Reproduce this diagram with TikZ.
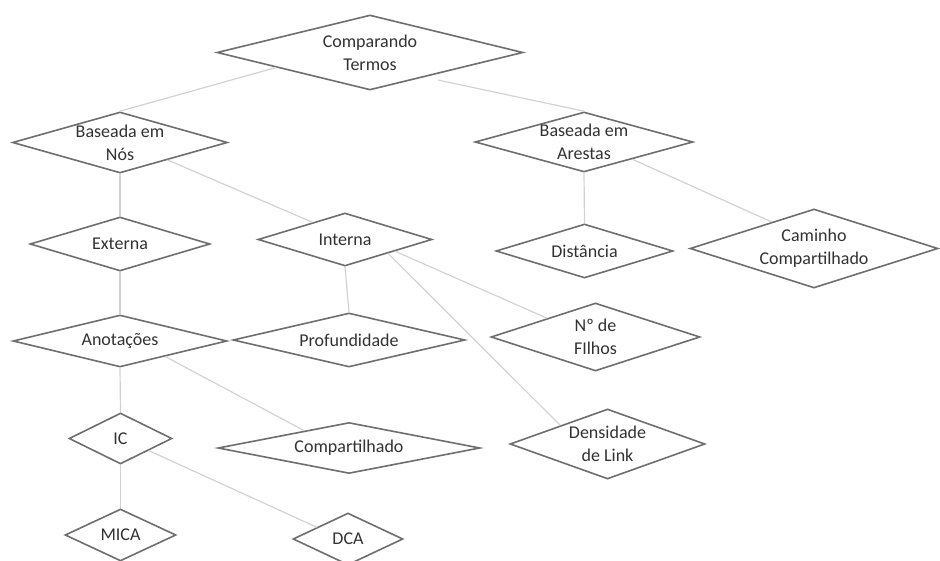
\documentclass[tikz,border=0pt]{standalone}
\usepackage{fontspec}
\setmainfont{Carlito}
\usetikzlibrary{shapes.geometric,calc}
\definecolor{edgegray}{RGB}{110,110,110}
\definecolor{linkgray}{RGB}{210,210,210}
\definecolor{textgray}{RGB}{50,50,50}
\tikzset{
  dtext/.style={text=textgray, align=center, inner sep=0pt,
    font=\fontsize{18}{23}\selectfont},
  dia/.style n args={3}{diamond, draw=edgegray, line width=1.6pt, fill=white,
    inner sep=0pt, minimum width=#1, minimum height=#2,
    label={[dtext]center:#3}},
  link/.style={draw=linkgray, line width=1.2pt},
}
\begin{document}
\begin{tikzpicture}[x=1pt,y=-1pt]
\useasboundingbox (0,0) rectangle (940,561);

% decision diamonds
\node[dia={306pt}{75pt}{Comparando\\Termos}] (cmp) at (370,52.5) {};
\node[dia={215pt}{61pt}{Baseada em\\Nós}] (nos) at (120,142.5) {};
\node[dia={218pt}{60pt}{Baseada em\\Arestas}] (are) at (584,142) {};
\node[dia={180pt}{54pt}{Externa}] (ext) at (120,244) {};
\node[dia={174pt}{53pt}{Interna}] (int) at (345,239.5) {};
\node[dia={177pt}{54pt}{Distância}] (dist) at (584.5,251) {};
\node[dia={248pt}{79pt}{Caminho\\Compartilhado}] (cam) at (814,248.5) {};
\node[dia={214pt}{52pt}{Anotações}] (anot) at (120,341) {};
\node[dia={232pt}{54pt}{Profundidade}] (prof) at (349,340) {};
\node[dia={209pt}{68pt}{Nº de\\FIlhos}] (fil) at (595.5,337) {};
\node[dia={103pt}{51pt}{IC}] (ic) at (120.5,438.5) {};
\node[dia={262pt}{51pt}{Compartilhado}] (comp) at (349,448) {};
\node[dia={195pt}{70pt}{Densidade\\de Link}] (dens) at (607.5,444) {};
\node[dia={111pt}{52pt}{MICA}] (mica) at (120.5,535) {};
\node[dia={110pt}{52pt}{DCA}] (dca) at (348,539) {};

% connectors
\draw[link] ($(cmp.west)!0.39!(cmp.south)$) -- (nos.north);
\draw[link] ($(cmp.south)!0.44!(cmp.east)+(0,6)$) -- (are.north);
\draw[link] (nos.south) -- (ext.north);
\draw[link] ($(nos.south)!0.44!(nos.east)$) -- ($(int.west)!0.63!(int.north)$);
\draw[link] (are.south) -- (dist.north);
\draw[link] ($(are.south)!0.44!(are.east)$) -- ($(cam.west)!0.66!(cam.north)$);
\draw[link] (ext.south) -- (anot.north);
\draw[link] (int.south) -- (prof.north);
\draw[link] ($(int.south)!0.57!(int.east)$) -- ($(fil.west)!0.54!(fil.north)$);
\draw[link] ($(int.south)!0.49!(int.east)$) -- ($(dens.west)!0.52!(dens.north)$);
\draw[link] (anot.south) -- (ic.north);
\draw[link] ($(anot.south)!0.42!(anot.east)$) -- ($(comp.west)!0.66!(comp.north)$);
\draw[link] (ic.south) -- (mica.north);
\draw[link] ($(ic.south)!0.54!(ic.east)$) -- ($(dca.west)!0.44!(dca.north)$);
\end{tikzpicture}
\end{document}
